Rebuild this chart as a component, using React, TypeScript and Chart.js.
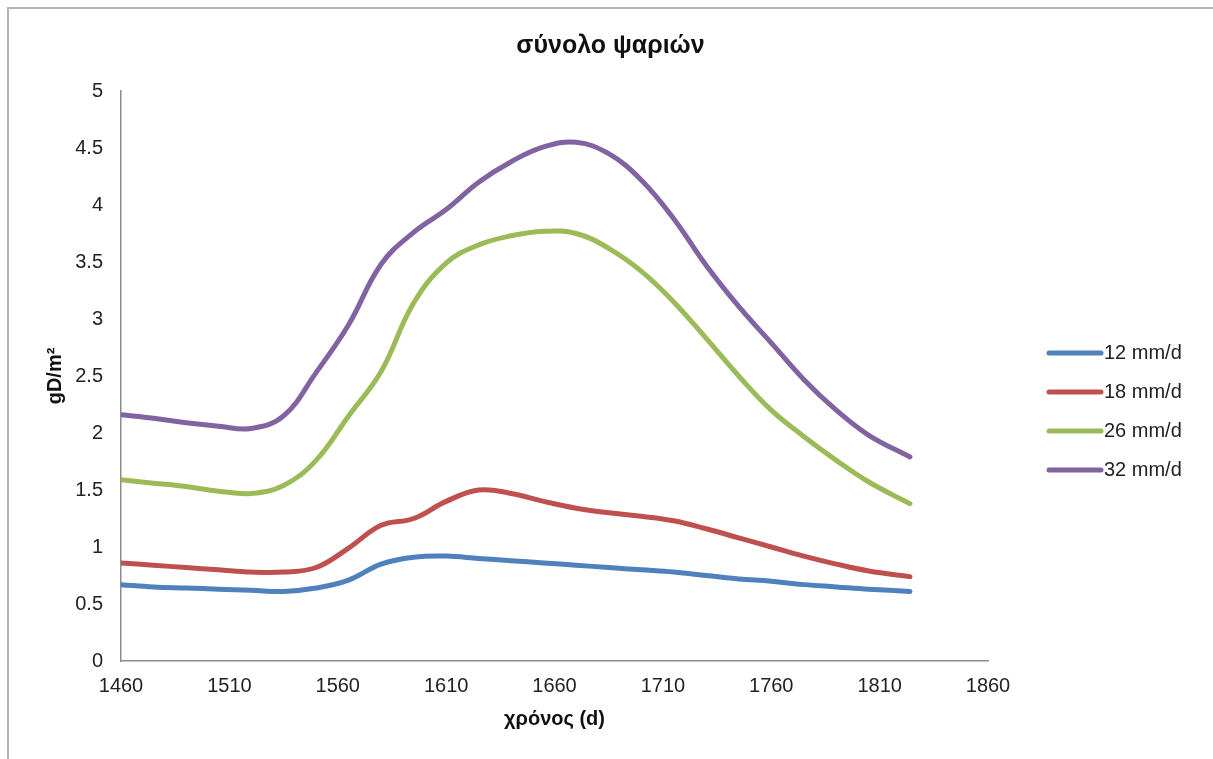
import React, { useEffect, useRef } from "react";
import { Chart, registerables } from "chart.js";

Chart.register(...registerables);

const days = [1460, 1475, 1490, 1505, 1520, 1535, 1550, 1565, 1580, 1595, 1610, 1625, 1640, 1655, 1670, 1685, 1700, 1715, 1730, 1745, 1760, 1775, 1790, 1805, 1824];

const s12 = [0.67, 0.65, 0.64, 0.63, 0.62, 0.61, 0.64, 0.71, 0.85, 0.91, 0.92, 0.90, 0.88, 0.86, 0.84, 0.82, 0.80, 0.78, 0.75, 0.72, 0.70, 0.67, 0.65, 0.63, 0.61];
const s18 = [0.86, 0.84, 0.82, 0.80, 0.78, 0.78, 0.82, 0.99, 1.19, 1.25, 1.40, 1.50, 1.47, 1.40, 1.34, 1.30, 1.27, 1.23, 1.16, 1.08, 1.00, 0.92, 0.85, 0.79, 0.74];
const s26 = [1.59, 1.56, 1.53, 1.49, 1.47, 1.54, 1.76, 2.15, 2.54, 3.14, 3.49, 3.65, 3.73, 3.77, 3.75, 3.62, 3.42, 3.15, 2.83, 2.50, 2.20, 1.97, 1.76, 1.57, 1.38];
const s32 = [2.16, 2.13, 2.09, 2.06, 2.04, 2.15, 2.53, 2.95, 3.48, 3.76, 3.96, 4.20, 4.38, 4.51, 4.55, 4.45, 4.22, 3.88, 3.47, 3.11, 2.79, 2.47, 2.20, 1.98, 1.79];

const seriesLabels = ["12 mm/d", "18 mm/d", "26 mm/d", "32 mm/d"];
const seriesColors = ["#4F81BD", "#C0504D", "#9BBB59", "#8064A2"];

const titleText = "σύνολο ψαριών";
const xTitle = "χρόνος (d)";
const yTitle = "gD/m²";

const FONT = "'Liberation Sans', Arial, sans-serif";

const decorPlugin = {
  id: "decor",
  afterDraw(chart: any) {
    const ctx = chart.ctx;
    ctx.save();
    // chart title, centred on the whole chart
    ctx.font = `bold 25px ${FONT}`;
    ctx.fillStyle = "#111";
    ctx.textAlign = "center";
    ctx.textBaseline = "middle";
    ctx.fillText(titleText, chart.width / 2 + 4, 46);
    // legend
    ctx.font = `20px ${FONT}`;
    ctx.textAlign = "left";
    chart.data.datasets.forEach((ds: any, i: number) => {
      const y = 353 + i * 39;
      ctx.strokeStyle = ds.borderColor;
      ctx.lineWidth = 5;
      ctx.lineCap = "round";
      ctx.beginPath();
      ctx.moveTo(1049, y);
      ctx.lineTo(1101, y);
      ctx.stroke();
      ctx.fillStyle = "#222";
      ctx.fillText(ds.label, 1104, y);
    });
    ctx.restore();
  },
};

export default function App() {
  const ref = useRef<HTMLCanvasElement>(null);

  useEffect(() => {
    if (!ref.current) return;
    const all = [s12, s18, s26, s32];
    const chart = new Chart(ref.current, {
      type: "line",
      data: {
        datasets: all.map((arr, i) => ({
          label: seriesLabels[i],
          data: days.map((d, j) => ({ x: d, y: arr[j] })),
          borderColor: seriesColors[i],
          backgroundColor: seriesColors[i],
          borderWidth: 5,
          pointRadius: 0,
          tension: 0.4,
          borderCapStyle: "round" as const,
          fill: false,
        })),
      },
      options: {
        responsive: false,
        animation: false,
        layout: { padding: { left: 0, right: 225, top: 91, bottom: 0 } },
        plugins: {
          legend: { display: false },
          tooltip: { enabled: false },
          title: { display: false },
        },
        scales: {
          x: {
            type: "linear",
            min: 1460,
            max: 1860,
            grid: { display: false, drawTicks: false, tickLength: 0 },
            border: { display: true, color: "#8c8c8c", width: 1.5 },
            ticks: {
              stepSize: 50,
              padding: 13,
              color: "#222",
              font: { family: FONT, size: 20 },
              maxRotation: 0,
              callback: (v: any) => String(v),
            },
            title: {
              display: true,
              text: xTitle,
              color: "#111",
              font: { family: FONT, size: 20, weight: "bold" },
              padding: { top: 0, bottom: 28 },
            },
            afterFit: (scale: any) => {
              scale.height = 98;
            },
          },
          y: {
            type: "linear",
            min: 0,
            max: 5,
            grid: { display: false, drawTicks: false, tickLength: 0 },
            border: { display: true, color: "#8c8c8c", width: 1.5 },
            ticks: {
              stepSize: 0.5,
              padding: 18,
              color: "#222",
              font: { family: FONT, size: 20 },
              callback: (v: any) => String(v),
            },
            title: {
              display: true,
              text: yTitle,
              color: "#111",
              font: { family: FONT, size: 20, weight: "bold" },
              padding: { top: 43, bottom: 0 },
            },
            afterFit: (scale: any) => {
              scale.width = 121;
            },
          },
        },
      },
      plugins: [decorPlugin],
    });
    return () => chart.destroy();
  }, []);

  return (
    <div style={{ position: "absolute", left: 0, top: 0, width: 1213, height: 759, background: "#fff", overflow: "hidden" }}>
      <canvas ref={ref} width={1213} height={759} style={{ position: "absolute", left: 0, top: 0 }} />
      <div style={{ position: "absolute", left: 7, top: 7, right: 0, height: 0, borderTop: "2px solid #b4b4b4" }} />
      <div style={{ position: "absolute", left: 7, top: 7, bottom: 0, width: 0, borderLeft: "2px solid #b4b4b4" }} />
    </div>
  );
}
